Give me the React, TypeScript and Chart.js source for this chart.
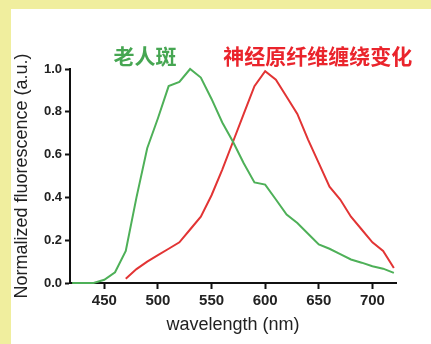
import React, { useEffect, useRef } from "react";
import { Chart, registerables } from "chart.js";

Chart.register(...registerables);

const wavelengths = [420, 430, 440, 450, 460, 470, 480, 490, 500, 510, 520, 530, 540, 550, 560, 570, 580, 590, 600, 610, 620, 630, 640, 650, 660, 670, 680, 690, 700, 710, 720];
const senilePlaque = [0, 0, 0, 0.015, 0.05, 0.15, 0.40, 0.63, 0.77, 0.92, 0.94, 1.0, 0.96, 0.86, 0.75, 0.66, 0.56, 0.47, 0.46, 0.39, 0.32, 0.28, 0.23, 0.18, 0.16, 0.135, 0.11, 0.095, 0.078, 0.067, 0.047];
const tangles = [null, null, null, null, null, 0.02, 0.065, 0.10, 0.13, 0.16, 0.19, 0.25, 0.31, 0.41, 0.53, 0.66, 0.79, 0.92, 0.99, 0.95, 0.87, 0.79, 0.67, 0.56, 0.45, 0.39, 0.31, 0.25, 0.19, 0.15, 0.07];
const seriesNames = ["老人斑", "神经原纤维缠绕变化"];
const labelAtX = [488, 649];
const labelAtY = [1.06, 1.06];
const xTicks = [450, 500, 550, 600, 650, 700];
const yTicks = [0, 0.2, 0.4, 0.6, 0.8, 1.0];

const GREEN = "rgb(78,176,88)";
const RED = "rgb(226,52,52)";
const TEXT_GREEN = "rgb(70,166,82)";
const TEXT_RED = "rgb(234,36,44)";

const labelPlugin = {
  id: "seriesLabels",
  afterDraw(chart: any) {
    const { ctx, scales } = chart;
    const colors = [TEXT_GREEN, TEXT_RED];
    ctx.save();
    ctx.font = "bold 21px 'Noto Sans CJK SC', sans-serif";
    ctx.textAlign = "center";
    ctx.textBaseline = "middle";
    seriesNames.forEach((name, i) => {
      ctx.fillStyle = colors[i];
      ctx.fillText(name, scales.x.getPixelForValue(labelAtX[i]), scales.y.getPixelForValue(labelAtY[i]));
    });
    ctx.restore();
  },
};

export default function App() {
  const ref = useRef<HTMLCanvasElement>(null);
  useEffect(() => {
    if (!ref.current) return;
    const chart = new Chart(ref.current, {
      type: "line",
      data: {
        datasets: [
          {
            label: seriesNames[0],
            data: wavelengths.map((w, i) => ({ x: w, y: senilePlaque[i] })),
            borderColor: GREEN,
            borderWidth: 2,
            pointRadius: 0,
            tension: 0,
            clip: false,
          },
          {
            label: seriesNames[1],
            data: wavelengths.map((w, i) => ({ x: w, y: tangles[i] as any })),
            borderColor: RED,
            borderWidth: 2,
            pointRadius: 0,
            tension: 0,
            clip: false,
            spanGaps: false,
          },
        ],
      },
      options: {
        responsive: false,
        animation: false,
        devicePixelRatio: 1,
        layout: { padding: { top: 60, right: 35, left: 0, bottom: 0 } },
        plugins: { legend: { display: false }, tooltip: { enabled: false } },
        scales: {
          x: {
            type: "linear",
            min: 418,
            max: 722,
            afterFit: (s: any) => { s.height = 61; },
            afterBuildTicks: (s: any) => { s.ticks = xTicks.map((v) => ({ value: v })); },
            grid: { drawOnChartArea: false, drawTicks: true, tickLength: 6, tickWidth: 2, tickColor: "#111", color: "#111" },
            border: { display: true, width: 2, color: "#111" },
            ticks: { color: "#222", padding: 3, font: { family: "'Liberation Sans', Arial, sans-serif", size: 15, weight: "bold" } },
            title: { display: true, text: "wavelength (nm)", color: "#222", padding: { top: 0, bottom: 8 }, font: { family: "'Liberation Sans', Arial, sans-serif", size: 18 } },
          },
          y: {
            min: 0,
            max: 1.0,
            afterFit: (s: any) => { s.width = 59; },
            afterBuildTicks: (s: any) => { s.ticks = yTicks.map((v) => ({ value: v })); },
            grid: { drawOnChartArea: false, drawTicks: true, tickLength: 5, tickWidth: 2, tickColor: "#111", color: "#111" },
            border: { display: true, width: 2, color: "#111" },
            ticks: { color: "#222", padding: 3, callback: (v: any) => Number(v).toFixed(1), font: { family: "'Liberation Sans', Arial, sans-serif", size: 13, weight: "bold" } },
            title: { display: true, text: "Normalized fluorescence (a.u.)", color: "#222", padding: { top: 0, bottom: 0 }, font: { family: "'Liberation Sans', Arial, sans-serif", size: 18 } },
          },
        },
      },
      plugins: [labelPlugin],
    });
    return () => chart.destroy();
  }, []);

  return (
    <div style={{ position: "absolute", left: 0, top: 0, width: 431, height: 344, background: "#f0ee9e", overflow: "hidden" }}>
      <div style={{ position: "absolute", left: 11, top: 9, width: 420, height: 335, background: "#ffffff" }}>
        <canvas ref={ref} width={420} height={335} style={{ display: "block" }} />
      </div>
    </div>
  );
}
